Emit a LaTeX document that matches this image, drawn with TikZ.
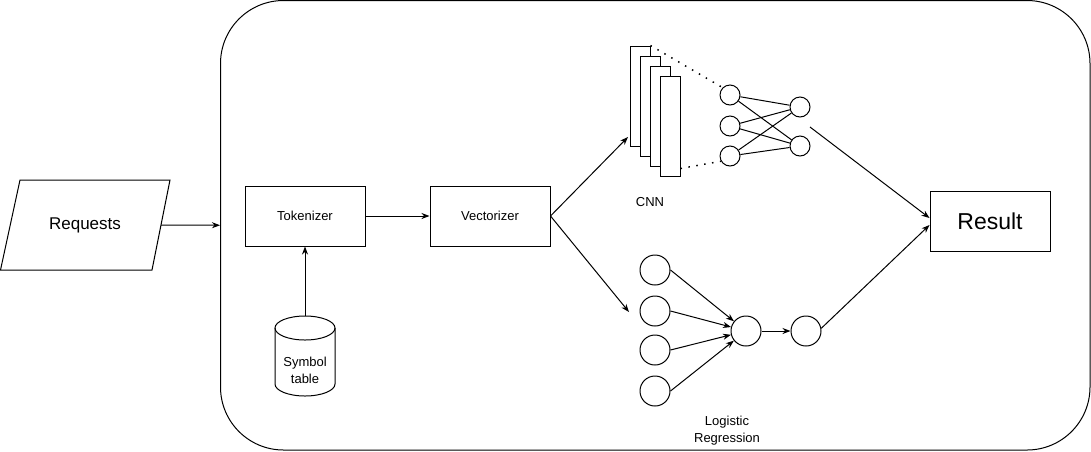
\documentclass[tikz,border=0pt]{standalone}
\usepackage{fontspec}
\setmainfont{Liberation Sans}
\usetikzlibrary{arrows.meta,calc}
\begin{document}
\begin{tikzpicture}[x=1pt,y=-1pt, line width=1pt,
  box/.style={draw, minimum width=120pt, minimum height=60pt, inner sep=0pt, font=\fontsize{13}{15}\selectfont},
  neuron/.style={draw, circle, inner sep=0pt, minimum size=20pt},
  lrn/.style={draw, circle, inner sep=0pt, minimum size=30pt},
  layer/.style={draw, fill=white, minimum width=20pt, minimum height=100pt, inner sep=0pt},
  arr/.style={-{Stealth[length=8pt,width=6pt,inset=2.5pt]}},
  dotline/.style={dash pattern=on 1.5pt off 6.5pt, line width=1.5pt},
  lbl/.style={font=\fontsize{13}{17}\selectfont, align=center}
]
\useasboundingbox (0,0) rectangle (1091,451);

% outer system box
\node[draw, rounded corners=63pt, minimum width=869.5pt, minimum height=449.5pt, inner sep=0pt] (sys) at (655.25,225.25) {};

% Requests
\draw (20,180) -- (170,180) -- (152,270) -- (0.5,270) -- cycle;
\node[font=\fontsize{17}{20}\selectfont] (req) at (85,225) {Requests};
\coordinate (reqout) at (161,225);
\draw[arr] (reqout) -- (sys.west);

% Tokenizer / Vectorizer
\node[box] (tok) at (305,216) {Tokenizer};
\node[box] (vec) at (490,216) {Vectorizer};
\draw[arr] (tok) -- (vec);

% Symbol table cylinder
\draw (275,328) -- (275,384) arc[start angle=180, end angle=360, x radius=30pt, y radius=12pt] -- (335,328);
\draw (305,328) ellipse[x radius=30pt, y radius=12pt];
\node[lbl] (sym) at (305,370) {Symbol\\table};
\coordinate (cyltop) at (305,316);
\draw[arr] (cyltop) -- (tok.south);

% CNN
\node[layer] (l1) at (640,96) {};
\node[layer] (l2) at (650,106) {};
\node[layer] (l3) at (660,116) {};
\node[layer] (l4) at (670,126) {};
\node[neuron] (c1) at (730,95) {};
\node[neuron] (c2) at (730,126) {};
\node[neuron] (c3) at (730,156) {};
\node[neuron] (o1) at (800,107) {};
\node[neuron] (o2) at (800,146) {};
\foreach \a in {c1,c2,c3} \foreach \b in {o1,o2} \draw (\a) -- (\b);
\draw[dotline] (l1.north east) -- (c1.135);
\draw[dotline] ([yshift=8pt]l4.south east) -- (c3.210);
\node[lbl] (cnnlbl) at (650,202) {CNN};

% branches from vectorizer
\coordinate (cnnin) at (628,137);
\coordinate (lrin) at (629,312);
\draw[arr] (vec.east) -- (cnnin);
\draw[arr] (vec.east) -- (lrin);

% Logistic regression
\node[lrn] (i1) at (655,270) {};
\node[lrn] (i2) at (655,311) {};
\node[lrn] (i3) at (655,350) {};
\node[lrn] (i4) at (655,391) {};
\node[lrn] (h) at (746,331) {};
\node[lrn] (out) at (806,331) {};
\foreach \i in {i1,i2,i3,i4} \draw[arr] (\i.east) -- (h);
\draw[arr] (h) -- (out);
\node[lbl] (lrlbl) at (727,431) {Logistic\\Regression};

% Result
\node[draw, minimum width=120pt, minimum height=60pt, inner sep=0pt, font=\fontsize{23}{27}\selectfont] (res) at (990,221) {Result};
\coordinate (cnnout) at (810,127);
\draw[arr] (cnnout) -- ([yshift=3pt]res.west);
\draw[arr] (out.10) -- ([yshift=-4pt]res.west);
\end{tikzpicture}
\end{document}
